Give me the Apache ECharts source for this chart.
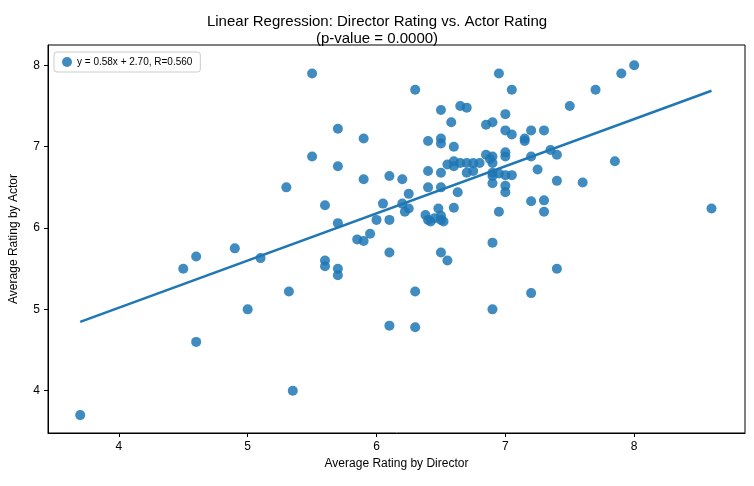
<!DOCTYPE html>
<html>
<head>
<meta charset="utf-8">
<script src="https://cdn.jsdelivr.net/npm/echarts@6/dist/echarts.min.js"></script>
<style>html,body{margin:0;padding:0;background:#fff}#c{width:754px;height:486px}</style>
</head>
<body>
<div id="c"></div>
<script>
// director rating, actor rating
var directorRating = [3.7,4.5,4.6,4.6,4.9,5.0,5.1,5.3,5.32,5.35,5.5,5.5,5.6,5.6,5.6,5.7,5.7,5.7,5.7,5.7,5.85,5.9,5.9,5.9,5.95,6.0,6.05,6.1,6.1,6.1,6.1,6.2,6.2,6.22,6.25,6.25,6.3,6.3,6.3,6.38,6.4,6.4,6.4,6.4,6.42,6.45,6.48,6.5,6.5,6.5,6.5,6.5,6.5,6.5,6.52,6.5,6.55,6.55,6.58,6.6,6.6,6.6,6.6,6.63,6.65,6.65,6.7,6.7,6.7,6.75,6.75,6.8,6.85,6.85,6.88,6.9,6.9,6.9,6.9,6.9,6.9,6.9,6.9,6.95,6.95,6.95,7.0,7.0,7.0,7.0,7.0,7.0,7.0,7.05,7.05,7.05,7.15,7.15,7.2,7.2,7.2,7.2,7.25,7.3,7.3,7.3,7.35,7.4,7.4,7.4,7.5,7.6,7.7,7.85,7.9,8.0,8.6];
var actorRating = [3.7,5.5,5.65,4.6,5.75,5.0,5.63,6.5,5.22,4.0,7.9,6.88,6.28,5.6,5.53,7.22,6.76,6.06,5.5,5.42,5.86,7.1,6.6,5.84,5.93,6.1,6.3,6.64,6.1,5.7,4.8,6.6,6.3,6.2,6.42,6.24,7.7,5.22,4.78,6.16,7.07,6.7,6.5,6.1,6.08,6.12,6.24,7.45,7.1,7.04,6.68,6.5,6.15,6.1,6.08,5.7,5.6,6.78,7.3,7.0,6.82,6.76,6.25,6.44,6.8,7.5,7.48,6.8,6.68,6.7,6.8,6.8,6.9,7.27,6.85,7.3,6.88,6.8,6.68,6.64,6.55,5.82,5.0,7.9,6.2,6.67,7.4,7.2,6.93,6.88,6.65,6.52,6.44,7.7,7.15,6.65,7.1,7.07,7.2,6.88,6.33,5.2,6.72,7.2,6.34,6.2,6.96,6.9,6.58,5.5,7.5,6.56,7.7,6.82,7.9,8.0,6.24];
var slope = 0.58, intercept = 2.70;
var fitX = [3.7, 8.6];
var xTicks = [4,5,6,7,8];
var yTicks = [4,5,6,7,8];

var pts = directorRating.map(function(d,i){return [d, actorRating[i]];});
var fitLine = fitX.map(function(x){return [x, slope*x+intercept];});
var font = 'Liberation Sans, Arial, sans-serif';

var chart = echarts.init(document.getElementById('c'));
chart.setOption({
  animation:false,
  title:{text:'Linear Regression: Director Rating vs. Actor Rating\n(p-value = 0.0000)',left:'center',top:8,
    textStyle:{fontFamily:font,fontSize:15,fontWeight:'normal',color:'#000',lineHeight:17}},
  grid:{left:47,right:9,top:45,bottom:53,show:true,borderColor:'#000',borderWidth:1},
  legend:{data:[{name:'y = 0.58x + 2.70, R=0.560',icon:'circle'}],left:54,top:52,itemWidth:10,itemHeight:10,
    borderColor:'#ccc',borderWidth:1,borderRadius:3,padding:[5,8],
    textStyle:{fontFamily:font,fontSize:10,color:'#000'}},
  xAxis:{type:'value',min:3.45,max:8.86,name:'Average Rating by Director',nameLocation:'middle',nameGap:25,
    nameTextStyle:{fontFamily:font,fontSize:12,color:'#000'},splitLine:{show:false},
    axisLine:{lineStyle:{color:'#000'}},
    axisTick:{customValues:xTicks,length:4,lineStyle:{color:'#000'}},
    axisLabel:{customValues:xTicks,fontFamily:font,fontSize:12,color:'#000'}},
  yAxis:{type:'value',min:3.48,max:8.25,name:'Average Rating by Actor',nameLocation:'middle',nameGap:28,
    nameTextStyle:{fontFamily:font,fontSize:12,color:'#000'},splitLine:{show:false},
    axisLine:{show:true,lineStyle:{color:'#000'}},
    axisTick:{show:true,customValues:yTicks,length:4,lineStyle:{color:'#000'}},
    axisLabel:{customValues:yTicks,fontFamily:font,fontSize:12,color:'#000'}},
  series:[
    {name:'y = 0.58x + 2.70, R=0.560',type:'scatter',data:pts,symbolSize:10,
      itemStyle:{color:'#1f77b4',opacity:0.85}},
    {type:'line',data:fitLine,symbol:'none',lineStyle:{color:'#1f77b4',width:2.5},z:3}
  ]
});
</script>
</body>
</html>
